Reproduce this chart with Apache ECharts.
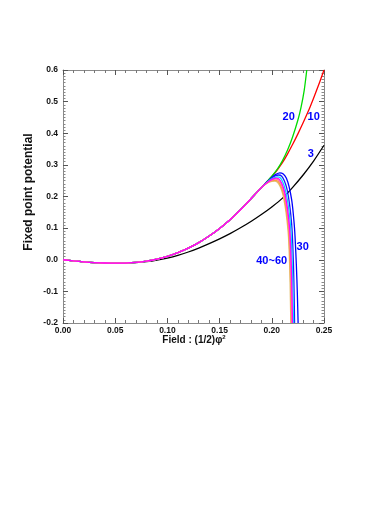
<!DOCTYPE html>
<html>
<head>
<meta charset="utf-8">
<script src="https://cdn.jsdelivr.net/npm/echarts@6/dist/echarts.min.js"></script>
<style>
  html, body { margin: 0; padding: 0; background: #fff; }
  #chart { width: 392px; height: 508px; }
</style>
</head>
<body>
<div id="chart"></div>
<script>
// shared part of the curves (all N >= 10 lie on top of each other here)
var fieldCommon = [0, 0.01, 0.02, 0.03, 0.04, 0.05, 0.06, 0.07, 0.08, 0.09,
  0.10, 0.11, 0.12, 0.13, 0.14, 0.15, 0.16, 0.17, 0.18, 0.19];
var potCommon = [0, -0.0035, -0.0065, -0.0088, -0.0103, -0.0109, -0.0104, -0.0085, -0.0045, 0.0020,
  0.0110, 0.0225, 0.0365, 0.0540, 0.0750, 0.0990, 0.1265, 0.1580, 0.1930, 0.2280];

// N = 3
var field3 = [0, 0.01, 0.02, 0.03, 0.04, 0.05, 0.06, 0.07, 0.08, 0.09, 0.10, 0.11, 0.12,
  0.13, 0.14, 0.15, 0.16, 0.17, 0.18, 0.19, 0.20, 0.21, 0.22, 0.23, 0.24, 0.25];
var pot3 = [0, -0.0035, -0.0066, -0.0090, -0.0106, -0.0113, -0.0110, -0.0094, -0.0062, -0.0012,
  0.0055, 0.0140, 0.0245, 0.0370, 0.0510, 0.0660, 0.0825, 0.1010, 0.1210, 0.1430,
  0.1670, 0.1940, 0.2290, 0.2680, 0.3120, 0.3620];

// tails after the shared part
var field10 = [0.195, 0.200, 0.205, 0.210, 0.215, 0.220, 0.225, 0.230, 0.235, 0.240, 0.245, 0.250];
var pot10 = [0.2455, 0.2630, 0.2830, 0.3060, 0.3340, 0.3650, 0.3980, 0.4330, 0.4700, 0.5110, 0.5540, 0.6000];

var field20 = [0.195, 0.200, 0.205, 0.210, 0.215, 0.220, 0.225, 0.228, 0.231, 0.2335];
var pot20 = [0.2460, 0.2640, 0.2850, 0.3120, 0.3460, 0.3890, 0.4420, 0.4820, 0.5350, 0.6000];

var field30 = [0.195, 0.200, 0.204, 0.2076, 0.211, 0.214, 0.2165, 0.219, 0.2205, 0.2220, 0.2235, 0.2245, 0.2252];
var pot30 = [0.2445, 0.2600, 0.2700, 0.2750, 0.2715, 0.2580, 0.2320, 0.1900, 0.1480, 0.0880, -0.0150, -0.1100, -0.2000];

var field40 = [0.195, 0.200, 0.203, 0.2066, 0.2095, 0.2120, 0.2145, 0.2165, 0.2182, 0.2195, 0.2207, 0.2214, 0.2218];
var pot40 = [0.2440, 0.2580, 0.2650, 0.2680, 0.2640, 0.2500, 0.2240, 0.1870, 0.1420, 0.0900, -0.0100, -0.1100, -0.2000];

var field45 = [0.195, 0.200, 0.2054, 0.2080, 0.2105, 0.2130, 0.2152, 0.2170, 0.2184, 0.2196, 0.2203, 0.2208];
var pot45 = [0.2435, 0.2560, 0.2620, 0.2590, 0.2460, 0.2210, 0.1840, 0.1400, 0.0850, -0.0150, -0.1100, -0.2000];

var field50 = [0.195, 0.200, 0.2044, 0.2070, 0.2095, 0.2120, 0.2142, 0.2160, 0.2175, 0.2187, 0.2194, 0.2198];
var pot50 = [0.2430, 0.2540, 0.2580, 0.2550, 0.2420, 0.2180, 0.1800, 0.1360, 0.0800, -0.0200, -0.1150, -0.2000];

var field55 = [0.195, 0.200, 0.2038, 0.2064, 0.2090, 0.2115, 0.2137, 0.2155, 0.2170, 0.2182, 0.2189, 0.2193];
var pot55 = [0.2425, 0.2520, 0.2550, 0.2520, 0.2390, 0.2150, 0.1770, 0.1330, 0.0780, -0.0220, -0.1170, -0.2000];

var field58 = [0.195, 0.200, 0.2033, 0.2059, 0.2085, 0.2110, 0.2132, 0.2150, 0.2165, 0.2177, 0.2183, 0.2187];
var pot58 = [0.2420, 0.2500, 0.2510, 0.2480, 0.2350, 0.2110, 0.1730, 0.1290, 0.0740, -0.0260, -0.1200, -0.2000];

var field60 = [0.195, 0.200, 0.2028, 0.2054, 0.2080, 0.2105, 0.2127, 0.2145, 0.2160, 0.2172, 0.2178, 0.2182];
var pot60 = [0.2415, 0.2480, 0.2485, 0.2450, 0.2320, 0.2080, 0.1700, 0.1260, 0.0710, -0.0290, -0.1230, -0.2000];

// curve annotations (text, field, potential)
var annoText = ['20', '10', '3', '30', '40~60'];
var annoField = [0.2162, 0.2401, 0.2373, 0.2296, 0.1999];
var annoPot = [0.450, 0.453, 0.336, 0.039, -0.004];

function pairs(xs, ys) {
  var out = [];
  for (var i = 0; i < xs.length; i++) out.push([xs[i], ys[i]]);
  return out;
}
function withCommon(xs, ys) {
  return pairs(fieldCommon, potCommon).concat(pairs(xs, ys));
}

var chart = echarts.init(document.getElementById('chart'), null, { renderer: 'canvas' });

var font = 'Liberation Sans, Arial, Helvetica, sans-serif';
var frame = '#8a8a8a';

function xAxisCfg(pos, showLabel) {
  return {
    type: 'value', position: pos, min: 0, max: 0.25, interval: 0.05,
    axisLine: { show: true, onZero: false, lineStyle: { color: frame, width: 1 } },
    axisTick: { show: true, inside: true, length: 5, lineStyle: { color: '#555' } },
    minorTick: { show: true, splitNumber: 5, length: 3, lineStyle: { color: '#777' } },
    splitLine: { show: false },
    axisLabel: {
      show: showLabel, margin: 3, color: '#111', fontFamily: font, fontWeight: 'bold', fontSize: 8.5,
      formatter: function (v) { return v.toFixed(2); }
    }
  };
}
function yAxisCfg(pos, showLabel) {
  return {
    type: 'value', position: pos, min: -0.2, max: 0.6, interval: 0.1,
    axisLine: { show: true, onZero: false, lineStyle: { color: frame, width: 1 } },
    axisTick: { show: true, inside: true, length: 5, lineStyle: { color: '#555' } },
    minorTick: { show: true, splitNumber: 10, length: 2.5, lineStyle: { color: '#888' } },
    splitLine: { show: false },
    axisLabel: {
      show: showLabel, margin: 5, color: '#111', fontFamily: font, fontWeight: 'bold', fontSize: 8.5,
      formatter: function (v) { return v.toFixed(1); }
    }
  };
}

function line(name, color, data, z) {
  return {
    name: name, type: 'line', data: data, xAxisIndex: 0, yAxisIndex: 0,
    showSymbol: false, symbol: 'none', smooth: 0.3, clip: true, z: z,
    lineStyle: { color: color, width: 1.3 }
  };
}

var annoData = [];
for (var i = 0; i < annoText.length; i++) {
  annoData.push({ coord: [annoField[i], annoPot[i]], value: annoText[i] });
}

var series = [
  line('N=3', '#000000', pairs(field3, pot3), 2),
  line('N=10', '#ff0000', withCommon(field10, pot10), 3),
  line('N=20', '#00dd00', withCommon(field20, pot20), 4),
  line('N=30', '#0000ff', withCommon(field30, pot30), 5),
  line('N=40', '#1a1aff', withCommon(field40, pot40), 6),
  line('N=45', '#00e0ff', withCommon(field45, pot45), 7),
  line('N=60', '#e0c070', withCommon(field60, pot60), 8),
  line('N=58', '#ff9a40', withCommon(field58, pot58), 9),
  line('N=55', '#ff70b0', withCommon(field55, pot55), 10),
  line('N=50', '#ff00ff', withCommon(field50, pot50), 11)
];
series[0].markPoint = {
  symbol: 'circle', symbolSize: 0, silent: true, animation: false,
  label: {
    show: true, position: 'inside', color: '#0000ff', fontFamily: font, fontWeight: 'bold', fontSize: 11,
    formatter: function (p) { return p.value; }
  },
  data: annoData
};

chart.setOption({
  animation: false,
  backgroundColor: '#ffffff',
  grid: { left: 63, right: 68, top: 70, bottom: 185, containLabel: false },
  xAxis: [xAxisCfg('bottom', true), xAxisCfg('top', false)],
  yAxis: [yAxisCfg('left', true), yAxisCfg('right', false)],
  series: series,
  graphic: [
    {
      type: 'text', x: 194, y: 340,
      style: {
        text: 'Field : (1/2)φ{s|2}',
        fill: '#111', font: 'bold 10px ' + font,
        align: 'center', verticalAlign: 'middle',
        rich: { s: { fontSize: 6, fontWeight: 'bold', fill: '#111', verticalAlign: 'top', padding: [0, 0, 6, 0] } }
      }
    },
    {
      type: 'text', x: 29, y: 192, rotation: Math.PI / 2,
      style: {
        text: 'Fixed point potential', fill: '#111', font: 'bold 12px ' + font,
        align: 'center', verticalAlign: 'middle'
      }
    }
  ]
});
</script>
</body>
</html>
